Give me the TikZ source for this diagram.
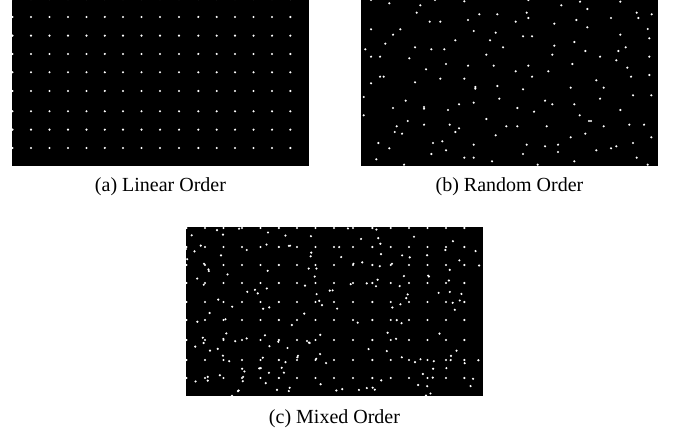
\documentclass[tikz,border=0pt]{standalone}
\usepackage{fontspec}
\setmainfont{Liberation Serif}
\usetikzlibrary{positioning}

%% grid columns, measured from the left edge of a panel (px)
\newcommand\gridcols{0.5,19,37.5,56,74.5,92.8,111,129.5,148,167,186.3,204.7,223,241.5,260,278.3}
%% sample points of panel (b), px from its top left corner
\newcommand\randpts{%
10/0,28.3/3.3,59.3/5.3,74/0,103.3/1.3,55.7/12.7,118.3/14.3,136.3/14.3,68.7/21.7,79.3/21.7,
107/20,10/29.3,39.3/29.3,32/34.7,112.7/31,134.7/32.7,24.3/43.7,94.3/40.3,129/40.3,4.3/49.3,
54/47.3,70.3/49.3,83.3/49.3,142/47.3,10/56.7,19/56.7,48.3/58.3,125.3/54.7,85/64,107/65.7,
132.7/65.7,65/69.3,19/76.7,22.7/76.7,79.3/78.7,103.3/78.7,54/82.3,10/83.3,
114.3/88.7,114.3/87,136.3/86,2.7/97,44.7/100.7,138.3/98.7,32/108,63/108.7,63/107,98/104.3,
112.7/102.7,87/110,2.7/115.3,46.7/121,125.3/119,35.7/126.3,63/124.7,88.7/124.7,145.3/126.3,
33.7/132,41/133.7,98/128.3,94.3/132,134.7/135.3,17.3/143,72/143,81.3/141.3,112.7/144.7,
28.3/148.3,70.3/154,85/150.3,15.3/159.3,103.3/157.7,112.7/157.7,131/161.3,43/164.7,
167.3/0,200.3/5.3,219/1.7,259.3/1.7,226.3/9,165.7/12.7,275.7/12.7,290.7/14.3,154.7/21.7,
167.3/18,193.3/23.7,215.3/20,250/18,277.3/18,226.3/27.3,286.7/29,162/36.3,171/36.3,
259.3/34.7,288.3/38.3,213.3/42,193.3/45.7,264.7/47.3,224.3/51,257.3/51,191.3/54.7,239/56.7,
288.3/56.7,255.3/60.3,211.3/64,167.3/65.7,266.3/67.7,154.7/71.3,187.3/71.3,171/76.7,
270/76.7,288.3/75,235.3/80.3,
162/89.3,209.7/87.7,242.7/87.7,272/95.3,290.3/95.3,184/100.7,191.3/104.3,213.3/104.3,
239/98.7,156.3/108,173/111.7,259.3/110,218.7/115.3,228/121,230/121,156.3/126.3,185.7/126.3,
242.7/126.3,268.3/124.7,283/124.7,224.3/133.7,209.7/137.3,290.3/137.3,165.7/144.7,
184/146.3,197/144.7,272/143,197/152,235.3/150.3,250/148.3,255.3/146.3,162/154,
275.7/157.7,213.3/161.3,176.7/164.7,286.7/164.7}

\begin{document}
\begin{tikzpicture}[x=0.5pt, y=-0.5pt,
  %% panel : black image box, 1px = 0.5pt
  panel/.style={fill=black, anchor=north west, inner sep=0pt, outer sep=0pt,
                minimum width=148.5pt, minimum height=83pt},
  dot/.style={fill=white},
  subcap/.style={anchor=base, inner sep=0pt, font=\fontsize{10}{12}\selectfont}
]
\useasboundingbox (0,0) rectangle (673,432);

%% -- panels ---------------------------------------------------------------
\node[panel] (pa) at (12,0) {};
\node[panel] (pb) at (361,0) {};
\node[panel, minimum height=84.5pt] (pc) at (186,227) {};

%% -- captions -------------------------------------------------------------
\node[subcap] (capa) at ([yshift=-13pt]pa.south) {(a) Linear Order};
\node[subcap] (capb) at ([yshift=-13pt]pb.south) {(b) Random Order};
\node[subcap] (capc) at ([yshift=-13.5pt]pc.south) {(c) Mixed Order};

%% -- (a) regular grid -----------------------------------------------------
\begin{scope}[shift={(pa.north west)}]
  \clip (0,0) rectangle (297,166);
  \foreach \gx in \gridcols
    \foreach \gy in {-1,17,35.7,54,72.3,91,111.3,129.7,148}
      \fill[dot] (\gx,\gy) circle[radius=0.6pt];
\end{scope}

%% -- (b) random points ----------------------------------------------------
\begin{scope}[shift={(pb.north west)}]
  \clip (0,0) rectangle (297,166);
  \foreach \px/\py in \randpts
    \fill[dot] (\px,\py) circle[radius=0.6pt];
\end{scope}

%% -- (c) grid + random points ---------------------------------------------
\begin{scope}[shift={(pc.north west)}]
  \clip (0,0) rectangle (297,169);
  \foreach \gx in \gridcols
    \foreach \gy in {1,20,38,56,75,93,113,133,151}
      \fill[dot] (\gx,\gy) circle[radius=0.6pt];
  \pgfmathsetseed{7}
  \foreach \k in {1,...,170}{
    \pgfmathsetmacro{\rx}{rnd*297}
    \pgfmathsetmacro{\ry}{rnd*169}
    \fill[dot] (\rx,\ry) circle[radius=0.6pt];
  }
\end{scope}

\end{tikzpicture}
\end{document}
